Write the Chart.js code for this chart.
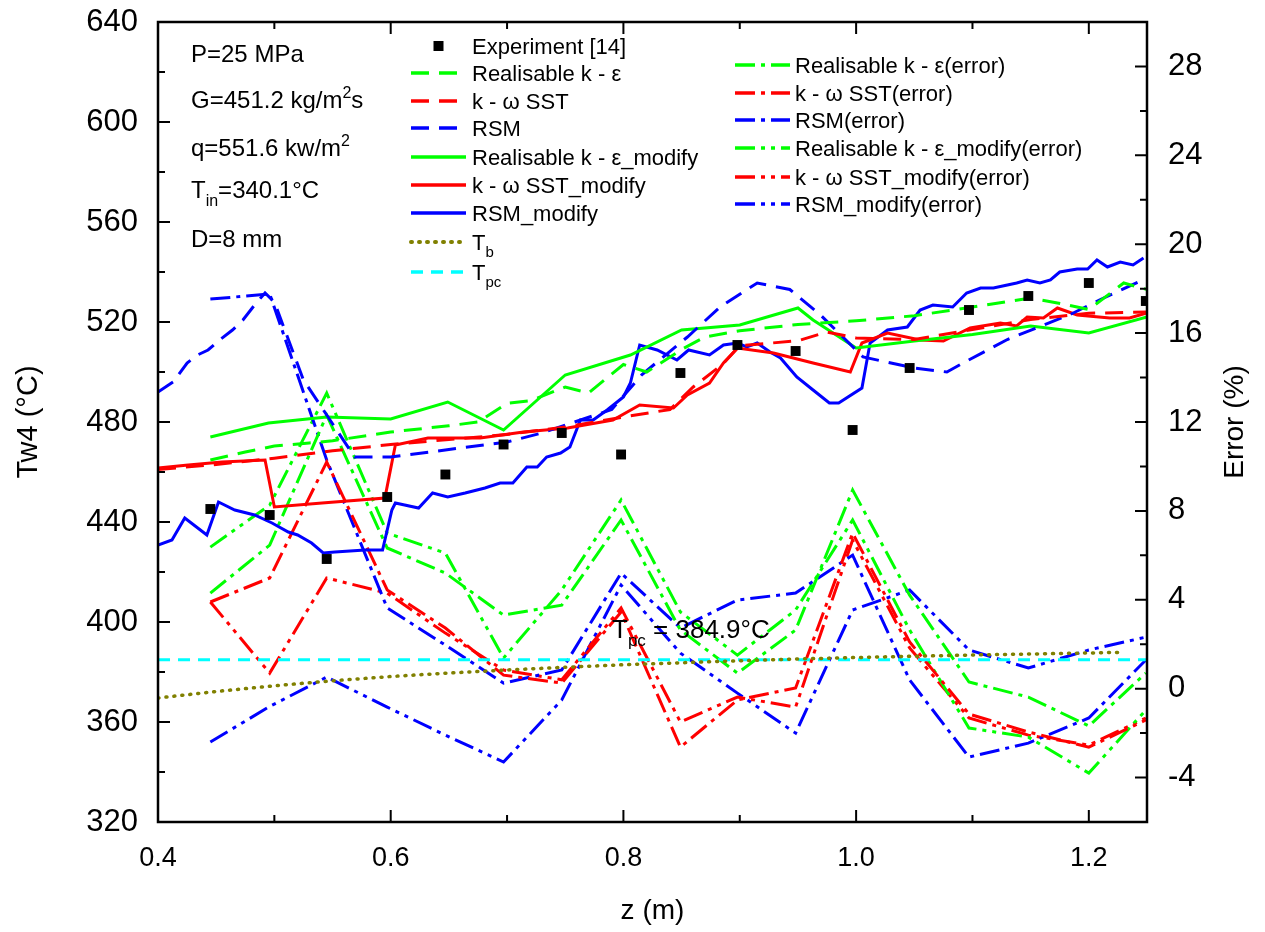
<!DOCTYPE html>
<html>
<head>
<meta charset="utf-8">
<script src="https://cdn.jsdelivr.net/npm/chart.js@4.4.1/dist/chart.umd.min.js"></script>
<style>
  html, body { margin: 0; padding: 0; background: #fff; }
  #wrap { position: relative; width: 1265px; height: 932px; }
</style>
</head>
<body>
<div id="wrap"><canvas id="chart"></canvas></div>
<script>
// Experiment [14]
const zExp = [0.445, 0.496, 0.545, 0.597, 0.647, 0.697, 0.747, 0.798, 0.849, 0.898, 0.948, 0.997, 1.046, 1.097, 1.148, 1.2, 1.249];
const tExp = [445.2, 442.8, 425.2, 450, 459, 471, 475.6, 467, 499.6, 510.8, 508.4, 476.8, 501.6, 524.8, 530.4, 535.6, 528.4];

// wall temperature, original models (dashed)
const zEps = [0.445, 0.475, 0.5, 0.53, 0.55, 0.6, 0.65, 0.675, 0.7, 0.72, 0.75, 0.77, 0.8, 0.82, 0.85, 0.87, 0.9, 0.95, 1.0, 1.05, 1.1, 1.15, 1.18, 1.2, 1.23, 1.25];
const tEps = [464.8, 468, 470.4, 471.6, 472.5, 476, 478.5, 480, 487.5, 488.5, 494, 491.6, 503, 500, 509, 514, 516.5, 519, 520.5, 522.5, 526, 529.6, 527, 525, 535.6, 533];
const zSst = [0.4, 0.45, 0.5, 0.55, 0.6, 0.65, 0.7, 0.75, 0.8, 0.84, 0.86, 0.885, 0.9, 0.95, 0.975, 1.0, 1.05, 1.1, 1.15, 1.2, 1.25];
const tSst = [461, 463, 465.5, 468.5, 471, 473, 475, 478, 482, 485, 494, 503, 510.5, 512.5, 516, 513.6, 513, 517, 521, 523.5, 524];
const zRsm = [0.4, 0.413, 0.425, 0.434, 0.443, 0.453, 0.464, 0.473, 0.483, 0.492, 0.5, 0.525, 0.569, 0.6, 0.65, 0.7, 0.73, 0.79, 0.816, 0.855, 0.883, 0.915, 0.943, 0.969, 1.006, 1.05, 1.078, 1.092, 1.13, 1.184, 1.21, 1.25];
const tRsm = [492, 496, 503.6, 506.8, 508.8, 512.8, 516.8, 520.8, 526.8, 531.6, 528, 496.8, 466, 466, 469, 472, 475.6, 485, 499, 514, 526, 535.6, 533, 523, 506, 501.6, 500, 503.6, 513, 523, 529, 537.6];

// wall temperature, modified models (solid)
const zEpsMod = [0.445, 0.495, 0.545, 0.6, 0.649, 0.697, 0.75, 0.806, 0.85, 0.9, 0.95, 0.963, 1.0, 1.05, 1.1, 1.15, 1.2, 1.25];
const tEpsMod = [474, 479.6, 482, 481.2, 488, 476.8, 498.8, 506.8, 516.8, 518.8, 525.6, 520.8, 509.6, 512.4, 515, 518.4, 515.6, 522];
const zSstMod = [0.4, 0.426, 0.455, 0.492, 0.5, 0.541, 0.595, 0.604, 0.632, 0.677, 0.714, 0.752, 0.791, 0.814, 0.843, 0.855, 0.874, 0.886, 0.898, 0.929, 0.963, 0.995, 1.005, 1.027, 1.055, 1.075, 1.098, 1.124, 1.138, 1.147, 1.161, 1.173, 1.19, 1.218, 1.235, 1.25];
const tSstMod = [461.6, 462.8, 464, 464.8, 446, 447.6, 449.6, 470.8, 473.6, 473.6, 476, 477.6, 480.8, 486.8, 485.6, 490.8, 495.6, 503.6, 509.6, 507.6, 503.6, 500, 511.6, 515.6, 512.8, 512.4, 517.6, 519.6, 518.4, 522, 521.6, 525.6, 522.8, 521.6, 521.6, 523.6];
const zRsmMod = [0.4, 0.412, 0.423, 0.442, 0.452, 0.466, 0.483, 0.498, 0.512, 0.52, 0.532, 0.542, 0.552, 0.578, 0.593, 0.601, 0.604, 0.624, 0.636, 0.649, 0.664, 0.681, 0.694, 0.705, 0.717, 0.726, 0.734, 0.746, 0.754, 0.763, 0.774, 0.786, 0.8, 0.806, 0.814, 0.829, 0.846, 0.856, 0.874, 0.886, 0.898, 0.906, 0.915, 0.926, 0.935, 0.949, 0.963, 0.977, 0.985, 1.005, 1.012, 1.027, 1.044, 1.055, 1.066, 1.083, 1.095, 1.107, 1.118, 1.13, 1.138, 1.147, 1.158, 1.167, 1.175, 1.19, 1.199, 1.207, 1.216, 1.227, 1.238, 1.247];
const tRsmMod = [430.8, 432.8, 441.6, 434.8, 448, 444.8, 442.8, 439.6, 436, 434.8, 431.6, 427.6, 428, 428.8, 428.8, 444.8, 447.6, 445.6, 451.6, 450, 451.6, 453.6, 455.6, 455.6, 462, 462, 466, 467.6, 470, 480.8, 480.8, 484.8, 490, 495.6, 510.8, 508.8, 504.8, 508.8, 506.8, 510.8, 511.6, 510, 511.6, 508, 505.6, 498, 492.8, 487.6, 487.6, 493.6, 511.6, 516.8, 518, 524.8, 526.8, 526, 531.6, 533.6, 533.6, 534.8, 535.6, 536.8, 535.6, 536.8, 540, 541.2, 541.2, 544.8, 542, 544, 542.8, 545.6];

// relative error (%), read at the experiment positions
const errEps = [4.3, 6.46, 12.31, 6.33, 5.2, 3.31, 3.76, 7.59, 2.64, 0.7, 2.64, 8.94, 4.21, 0.3, -0.38, -1.68, 0.7];
const errSst = [3.9, 4.98, 10.2, 4.44, 2.73, 0.61, 0.25, 3.45, -2.63, -0.51, 0.03, 7.0, 2.1, -1.14, -1.95, -2.63, -1.41];
const errRsm = [17.53, 17.76, 10.29, 3.63, 1.96, 0.25, 0.84, 5.2, 2.73, 3.99, 4.3, 6.01, 0.39, -3.08, -2.45, -1.32, 1.29];
const errEpsMod = [6.37, 8.26, 13.3, 7.0, 6.1, 1.38, 4.44, 8.49, 3.45, 1.51, 3.54, 7.59, 2.64, -1.77, -2.18, -3.8, -0.96];
const errSstMod = [3.9, 0.7, 4.98, 4.3, 2.5, 0.84, 0.4, 3.63, -1.5, -0.38, -0.83, 6.69, 1.83, -1.32, -2.09, -2.54, -1.32];
const errRsmMod = [-2.4, -0.8, 0.52, -0.83, -2.09, -3.3, -0.51, 4.66, 1.6, -0.2, -2.0, 3.54, 4.44, 1.74, 0.93, 1.74, 2.32];

// bulk temperature and pseudo-critical temperature
const zTb = [0.4, 0.45, 0.5, 0.55, 0.6, 0.65, 0.7, 0.75, 0.8, 0.85, 0.9, 0.95, 1.0, 1.05, 1.1, 1.15, 1.2, 1.23];
const tTb = [369.6, 372.2, 374.5, 376.5, 378.2, 379.6, 380.8, 381.9, 382.9, 383.7, 384.5, 385.2, 385.8, 386.3, 386.8, 387.2, 387.6, 387.9];
const zTpc = [0.4, 1.25];
const tTpc = [384.9, 384.9];

// tick values
const xMajor = [0.4, 0.6, 0.8, 1.0, 1.2];
const xMinor = [0.5, 0.7, 0.9, 1.1];
const tMajor = [320, 360, 400, 440, 480, 520, 560, 600, 640];
const tMinor = [340, 380, 420, 460, 500, 540, 580, 620];
const eMajor = [-4, 0, 4, 8, 12, 16, 20, 24, 28];
const eMinor = [-2, 2, 6, 10, 14, 18, 22, 26];

const GREEN = "#00ff00", RED = "#ff0000", BLUE = "#0000ff", OLIVE = "#808000", CYAN = "#00ffff";
const DASH = [18, 10], DASH_DOT = [20, 6, 4, 6], DASH_DOT2 = [20, 6, 4, 6, 4, 6];
const FONT = '"Liberation Sans", Arial, sans-serif';

const pts = (zs, vs) => zs.map((z, i) => ({ x: z, y: vs[i] }));

function line(label, zs, vs, color, dash, axis, width) {
  return {
    label: label,
    data: pts(zs, vs),
    borderColor: color,
    backgroundColor: color,
    borderDash: dash || [],
    borderWidth: width || 3,
    pointRadius: 0,
    fill: false,
    tension: 0,
    yAxisID: axis || "y",
  };
}

const datasets = [
  {
    label: "Experiment [14]",
    data: pts(zExp, tExp),
    showLine: false,
    pointStyle: "rect",
    pointRadius: 7,
    pointBorderWidth: 0,
    backgroundColor: "#000",
    borderColor: "#000",
    yAxisID: "y",
  },
  line("Realisable k - ε", zEps, tEps, GREEN, DASH),
  line("k - ω SST", zSst, tSst, RED, DASH),
  line("RSM", zRsm, tRsm, BLUE, DASH),
  line("Realisable k - ε_modify", zEpsMod, tEpsMod, GREEN),
  line("k - ω SST_modify", zSstMod, tSstMod, RED),
  line("RSM_modify", zRsmMod, tRsmMod, BLUE),
  line("Tb", zTb, tTb, OLIVE, [1, 7], "y", 3.5),
  line("Tpc", zTpc, tTpc, CYAN, [12, 8]),
  line("Realisable k - ε(error)", zExp, errEps, GREEN, DASH_DOT, "yErr"),
  line("k - ω SST(error)", zExp, errSst, RED, DASH_DOT, "yErr"),
  line("RSM(error)", zExp, errRsm, BLUE, DASH_DOT, "yErr"),
  line("Realisable k - ε_modify(error)", zExp, errEpsMod, GREEN, DASH_DOT2, "yErr"),
  line("k - ω SST_modify(error)", zExp, errSstMod, RED, DASH_DOT2, "yErr"),
  line("RSM_modify(error)", zExp, errRsmMod, BLUE, DASH_DOT2, "yErr"),
];
datasets[7].borderCapStyle = "round";

// text with sub/superscripts: parts = [[text, "sub"|"sup"|undefined], ...]
function richText(ctx, parts, x, y, size) {
  let cx = x;
  parts.forEach(([t, kind]) => {
    const s = kind ? Math.round(size * 0.66) : size;
    ctx.font = s + "px " + FONT;
    const dy = kind === "sub" ? size * 0.32 : kind === "sup" ? -size * 0.4 : 0;
    ctx.fillText(t, cx, y + dy);
    cx += ctx.measureText(t).width;
  });
  return cx;
}

const legendCol1 = [
  [0, [["Experiment [14]"]], 46],
  [1, [["Realisable k - ε"]], 73],
  [2, [["k - ω SST"]], 101],
  [3, [["RSM"]], 128],
  [4, [["Realisable k - ε_modify"]], 157],
  [5, [["k - ω SST_modify"]], 185],
  [6, [["RSM_modify"]], 213],
  [7, [["T"], ["b", "sub"]], 242],
  [8, [["T"], ["pc", "sub"]], 272],
];
const legendCol2 = [
  [9, [["Realisable k - ε(error)"]], 65],
  [10, [["k - ω SST(error)"]], 93],
  [11, [["RSM(error)"]], 120],
  [12, [["Realisable k - ε_modify(error)"]], 148],
  [13, [["k - ω SST_modify(error)"]], 177],
  [14, [["RSM_modify(error)"]], 204],
];

const info = [
  [[["P=25 MPa"]], 62],
  [[["G=451.2 kg/m"], ["2", "sup"], ["s"]], 108],
  [[["q=551.6 kw/m"], ["2", "sup"]], 156],
  [[["T"], ["in", "sub"], ["=340.1°C"]], 198],
  [[["D=8 mm"]], 247],
];

const decor = {
  id: "decor",
  afterDraw(chart) {
    const { ctx, chartArea: a } = chart;
    const sx = chart.scales.x, sy = chart.scales.y, se = chart.scales.yErr;
    ctx.save();

    // frame and inward ticks
    ctx.strokeStyle = "#000";
    ctx.lineWidth = 2.5;
    ctx.strokeRect(a.left, a.top, a.right - a.left, a.bottom - a.top);
    ctx.lineWidth = 2;
    ctx.beginPath();
    const seg = (x1, y1, x2, y2) => { ctx.moveTo(x1, y1); ctx.lineTo(x2, y2); };
    xMajor.forEach((v) => { const p = sx.getPixelForValue(v); seg(p, a.bottom, p, a.bottom - 12); seg(p, a.top, p, a.top + 12); });
    xMinor.forEach((v) => { const p = sx.getPixelForValue(v); seg(p, a.bottom, p, a.bottom - 7); seg(p, a.top, p, a.top + 7); });
    tMajor.forEach((v) => { const p = sy.getPixelForValue(v); seg(a.left, p, a.left + 12, p); });
    tMinor.forEach((v) => { const p = sy.getPixelForValue(v); seg(a.left, p, a.left + 7, p); });
    eMajor.forEach((v) => { const p = se.getPixelForValue(v); seg(a.right, p, a.right - 12, p); });
    eMinor.forEach((v) => { const p = se.getPixelForValue(v); seg(a.right, p, a.right - 7, p); });
    ctx.stroke();

    ctx.fillStyle = "#000";
    ctx.textBaseline = "alphabetic";
    ctx.textAlign = "left";

    // right axis title
    ctx.save();
    ctx.translate(1235, (a.top + a.bottom) / 2);
    ctx.rotate(-Math.PI / 2);
    ctx.textAlign = "center";
    ctx.textBaseline = "middle";
    ctx.font = "28px " + FONT;
    ctx.fillText("Error (%)", 0, 0);
    ctx.restore();

    // conditions
    info.forEach(([parts, y]) => richText(ctx, parts, 191, y, 24));

    // pseudo-critical label
    richText(ctx, [["T"], ["pc", "sub"], [" = 384.9°C"]], 612, 638, 26);

    // legend
    const drawSample = (idx, x0, x1, y) => {
      const ds = chart.data.datasets[idx];
      if (idx === 0) {
        ctx.fillStyle = "#000";
        ctx.fillRect((x0 + x1) / 2 - 5, y - 5, 10, 10);
        return;
      }
      ctx.save();
      ctx.strokeStyle = ds.borderColor;
      ctx.lineWidth = ds.borderWidth + 0.5;
      ctx.lineCap = ds.borderCapStyle || "butt";
      ctx.setLineDash(ds.borderDash);
      ctx.beginPath();
      ctx.moveTo(x0, y);
      ctx.lineTo(x1, y);
      ctx.stroke();
      ctx.restore();
    };
    legendCol1.forEach(([idx, parts, y]) => {
      drawSample(idx, 411, 466, y);
      ctx.fillStyle = "#000";
      richText(ctx, parts, 472, y + 8, 22);
    });
    legendCol2.forEach(([idx, parts, y]) => {
      drawSample(idx, 735, 790, y);
      ctx.fillStyle = "#000";
      richText(ctx, parts, 795, y + 8, 22);
    });
    ctx.restore();
  },
};

new Chart(document.getElementById("chart"), {
  type: "line",
  data: { datasets: datasets },
  options: {
    responsive: true,
    maintainAspectRatio: false,
    animation: false,
    layout: { padding: { top: 22, right: 0, bottom: 0, left: 0 } },
    plugins: { legend: { display: false }, tooltip: { enabled: false } },
    scales: {
      x: {
        type: "linear",
        min: 0.4,
        max: 1.25,
        afterFit: (s) => { s.height = 110; s.paddingLeft = 0; s.paddingRight = 0; },
        afterBuildTicks: (s) => { s.ticks = xMajor.map((v) => ({ value: v })); },
        grid: { display: false, drawTicks: false },
        border: { display: false },
        ticks: {
          color: "#000",
          padding: 20,
          maxRotation: 0,
          autoSkip: false,
          font: { family: FONT, size: 27 },
          callback: (v) => Number(v).toFixed(1),
        },
        title: {
          display: true,
          text: "z (m)",
          color: "#000",
          font: { family: FONT, size: 28 },
          padding: { top: 0, bottom: 4 },
        },
      },
      y: {
        type: "linear",
        position: "left",
        min: 320,
        max: 640,
        afterFit: (s) => { s.width = 158; s.paddingTop = 0; s.paddingBottom = 0; },
        afterBuildTicks: (s) => { s.ticks = tMajor.map((v) => ({ value: v })); },
        grid: { display: false, drawTicks: false },
        border: { display: false },
        ticks: { color: "#000", padding: 20, font: { family: FONT, size: 31 } },
        title: {
          display: true,
          text: "Tw4 (°C)",
          color: "#000",
          font: { family: FONT, size: 29 },
          padding: { top: 12, bottom: 0 },
        },
      },
      yErr: {
        type: "linear",
        position: "right",
        min: -6,
        max: 30,
        afterFit: (s) => { s.width = 118; s.paddingTop = 0; s.paddingBottom = 0; },
        afterBuildTicks: (s) => { s.ticks = eMajor.map((v) => ({ value: v })); },
        grid: { display: false, drawTicks: false },
        border: { display: false },
        ticks: { color: "#000", padding: 21, font: { family: FONT, size: 31 } },
      },
    },
  },
  plugins: [decor],
});
</script>
</body>
</html>
